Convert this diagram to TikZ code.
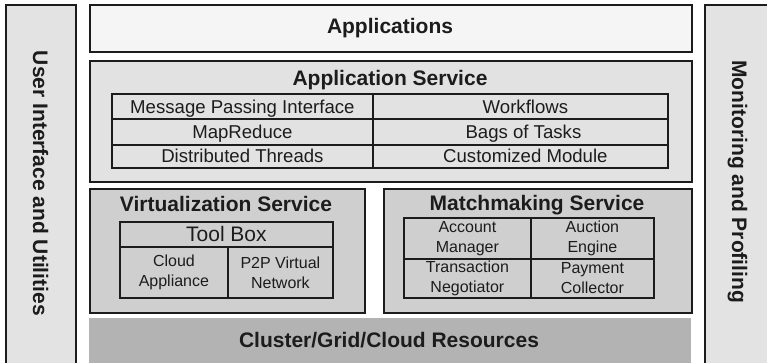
\documentclass[tikz,border=0pt]{standalone}
\usepackage{fontspec}
\setmainfont{Liberation Sans}
\definecolor{ink}{HTML}{1C1C1C}
\definecolor{barfill}{HTML}{E3E3E3}
\definecolor{appfill}{HTML}{F5F5F5}
\definecolor{svcfill}{HTML}{E2E2E2}
\definecolor{midfill}{HTML}{CFCFCF}
\definecolor{basefill}{HTML}{B3B3B3}
\begin{document}
\begin{tikzpicture}[x=1pt,y=-1pt,
  box/.style={draw=ink, line width=1.8pt, inner sep=0pt, anchor=north west},
  cell/.style={draw=ink, line width=1.8pt, inner sep=0pt, anchor=north west,
    align=center, text=ink},
  heading/.style={font=\fontsize{21}{24}\selectfont\bfseries, text=ink,
    inner sep=0pt, anchor=base},
  svctext/.style={font=\fontsize{18.6}{22}\selectfont, text height=13.3pt,
    text depth=0pt},
  smalltext/.style={font=\fontsize{16}{20}\selectfont}]
\useasboundingbox (0,0) rectangle (767,362);
\clip (0,0) rectangle (767,362);

% side bars
\node[box, fill=barfill, minimum width=70pt, minimum height=361pt] (ui) at (5,4) {};
\node[heading, rotate=-90] (uilabel) at (33,183.3) {User Interface and Utilities};
\node[box, fill=barfill, minimum width=71pt, minimum height=361pt] (mon) at (704,4) {};
\node[heading, rotate=-90] (monlabel) at (732,181.7) {Monitoring and Profiling};

% applications layer
\node[box, fill=appfill, minimum width=602pt, minimum height=47pt] (apps) at (89,4) {};
\node[heading] (appslabel) at (390,33.3) {Applications};

% application service layer
\node[box, fill=svcfill, minimum width=602pt, minimum height=121pt] (asvc) at (89,60) {};
\node[heading] (asvclabel) at (390,85) {Application Service};
\node[cell, svctext, minimum width=261pt, minimum height=25pt] (mpi) at (111,93.3) {Message Passing Interface};
\node[cell, svctext, minimum width=261pt, minimum height=25.7pt] (mapred) at (111,118.3) {MapReduce};
\node[cell, svctext, minimum width=261pt, minimum height=22.7pt] (threads) at (111,144) {Distributed Threads};
\node[cell, svctext, minimum width=295pt, minimum height=25pt] (wf) at (372,93.3) {\hspace*{10pt}Workflows};
\node[cell, svctext, minimum width=295pt, minimum height=25.7pt] (bot) at (372,118.3) {\hspace*{6pt}Bags of Tasks};
\node[cell, svctext, minimum width=295pt, minimum height=22.7pt] (custom) at (372,144) {\hspace*{10pt}Customized Module};

% virtualization service
\node[box, fill=midfill, minimum width=275pt, minimum height=124pt] (virt) at (89,188) {};
\node[heading] (virtlabel) at (226,211.7) {Virtualization Service};
\node[cell, font=\fontsize{21}{24}\selectfont, text height=14pt, text depth=0pt,
  minimum width=213pt, minimum height=25pt] (toolbox) at (119,221) {Tool Box};
\node[cell, smalltext, minimum width=108pt, minimum height=51pt] (appliance) at (119,246) {Cloud\\Appliance};
\node[cell, smalltext, minimum width=105pt, minimum height=51pt] (p2p) at (227,246) {P2P Virtual\\Network};

% matchmaking service
\node[box, fill=midfill, minimum width=308pt, minimum height=124pt] (match) at (383,188) {};
\node[heading] (matchlabel) at (537,210) {Matchmaking Service};
\node[cell, smalltext, minimum width=127pt, minimum height=41pt] (account) at (403,217) {Account\\Manager};
\node[cell, smalltext, minimum width=123pt, minimum height=41pt] (auction) at (530,217) {Auction\\Engine};
\node[cell, smalltext, minimum width=127pt, minimum height=39pt] (trans) at (403,258) {Transaction\\Negotiator};
\node[cell, smalltext, minimum width=123pt, minimum height=39pt] (payment) at (530,258) {Payment\\Collector};

% resource layer
\node[anchor=north west, fill=basefill, inner sep=0pt, minimum width=602pt,
  minimum height=60pt] (res) at (89,318) {};
\node[heading] (reslabel) at (389,347) {Cluster/Grid/Cloud Resources};
\end{tikzpicture}
\end{document}
